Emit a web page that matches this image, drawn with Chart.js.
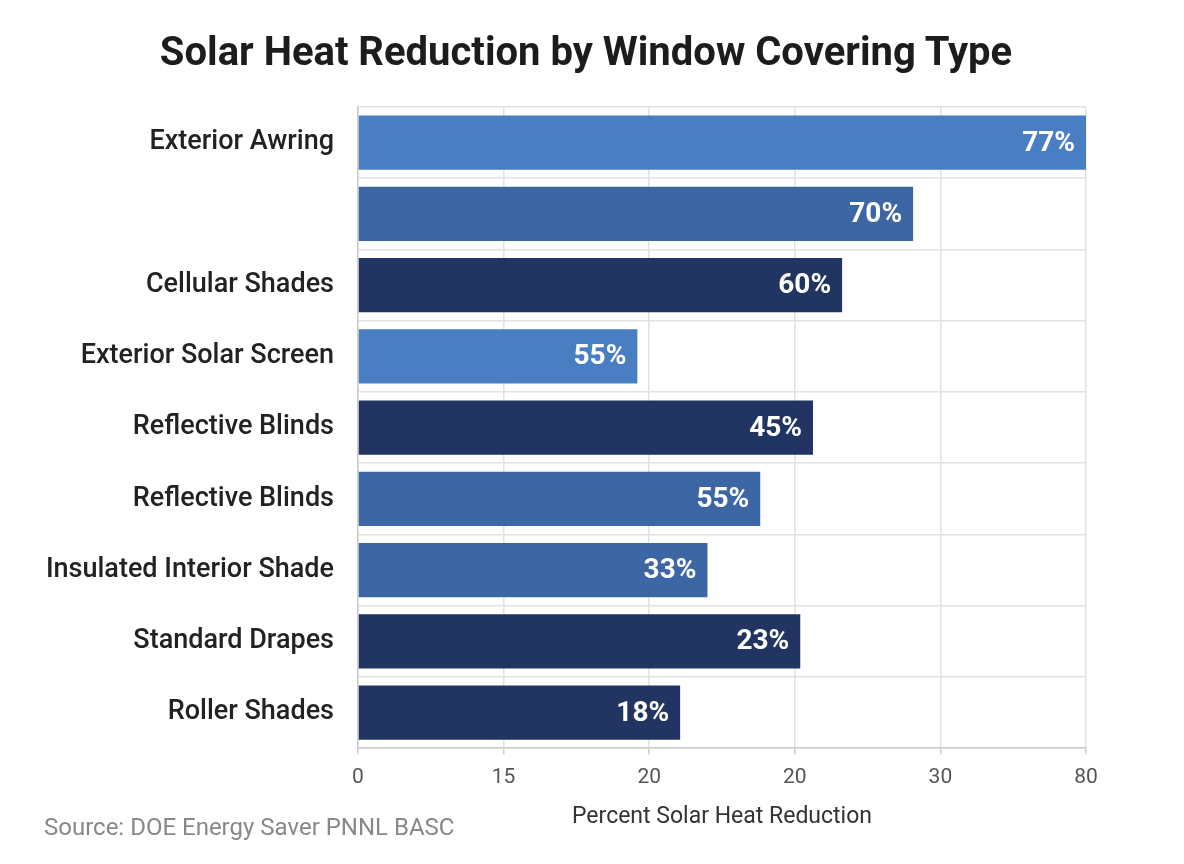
<!DOCTYPE html>
<html>
<head>
<meta charset="utf-8">
<script src="https://cdn.jsdelivr.net/npm/chart.js@4/dist/chart.umd.min.js"></script>
<style>
  html, body { margin: 0; padding: 0; background: #ffffff; }
  #wrap { position: relative; width: 1184px; height: 864px; }
  #title { position: absolute; left: 0; top: 28px; width: 1172px; text-align: center; font-family: Roboto, sans-serif; font-weight: bold; font-size: 40px; line-height: 48px; color: #1c1c1c; }
  #source { position: absolute; left: 44px; top: 813px; font-family: Roboto, sans-serif; font-size: 24px; line-height: 28px; color: #888888; }
</style>
</head>
<body>
<div id="wrap">
  <canvas id="c" width="1184" height="864"></canvas>
  <div id="title">Solar Heat Reduction by Window Covering Type</div>
  <div id="source">Source: DOE Energy Saver PNNL BASC</div>
</div>
<script>
// Categories (top to bottom)
const categories = [
  'Exterior Awring',
  '',
  'Cellular Shades',
  'Exterior Solar Screen',
  'Reflective Blinds',
  'Reflective Blinds',
  'Insulated Interior Shade',
  'Standard Drapes',
  'Roller Shades'
];
// Bar lengths as drawn, in axis units (0-80 scale)
const barValues = [80, 61, 53.2, 30.7, 50, 44.2, 38.4, 48.6, 35.4];
// Text printed on each bar
const barLabels = ['77%', '70%', '60%', '55%', '45%', '55%', '33%', '23%', '18%'];
// Tick labels printed on the x axis
const tickLabels = ['0', '15', '20', '20', '30', '80'];
// Colour group per bar
const barTones = ['light', 'mid', 'dark', 'light', 'dark', 'mid', 'mid', 'dark', 'dark'];

const palette = { light: '#4a7ec2', mid: '#3c67a4', dark: '#213462' };

const barTextPlugin = {
  id: 'barText',
  afterDatasetsDraw(chart) {
    const ctx = chart.ctx;
    const meta = chart.getDatasetMeta(0);
    ctx.save();
    ctx.font = 'bold 28px Roboto, sans-serif';
    ctx.fillStyle = '#ffffff';
    ctx.textAlign = 'right';
    ctx.textBaseline = 'middle';
    meta.data.forEach((bar, i) => {
      ctx.fillText(barLabels[i], bar.x - 11, bar.y + 1);
    });
    ctx.restore();
  }
};

new Chart(document.getElementById('c'), {
  type: 'bar',
  data: {
    labels: categories,
    datasets: [{
      data: barValues,
      backgroundColor: barTones.map(t => palette[t]),
      borderWidth: 0,
      barPercentage: 0.76,
      categoryPercentage: 1
    }]
  },
  options: {
    indexAxis: 'y',
    responsive: false,
    animation: false,
    devicePixelRatio: 1,
    layout: { padding: { top: 107, left: 44, right: 98, bottom: 33 } },
    plugins: {
      legend: { display: false },
      tooltip: { enabled: false },
      title: { display: false }
    },
    scales: {
      x: {
        min: 0,
        max: 80,
        ticks: {
          stepSize: 16,
          color: '#555555',
          padding: 11,
          font: { family: 'Roboto, sans-serif', size: 21 },
          callback: (v, i) => tickLabels[i]
        },
        grid: { color: '#e2e2e2', lineWidth: 1.5, tickLength: 6, tickColor: '#cccccc' },
        border: { color: '#cccccc', width: 1.5 },
        title: {
          display: true,
          text: 'Percent Solar Heat Reduction',
          color: '#333333',
          font: { family: 'Roboto, sans-serif', size: 23 },
          padding: { top: 2, bottom: 0 }
        }
      },
      y: {
        afterFit(scale) { scale.width = 314; },
        ticks: {
          color: '#222222',
          padding: 24,
          font: { family: 'Roboto, sans-serif', size: 27, weight: '500' }
        },
        grid: { color: '#e2e2e2', lineWidth: 1.5, drawTicks: false },
        border: { color: '#cccccc', width: 1.5 }
      }
    }
  },
  plugins: [barTextPlugin]
});
</script>
</body>
</html>
